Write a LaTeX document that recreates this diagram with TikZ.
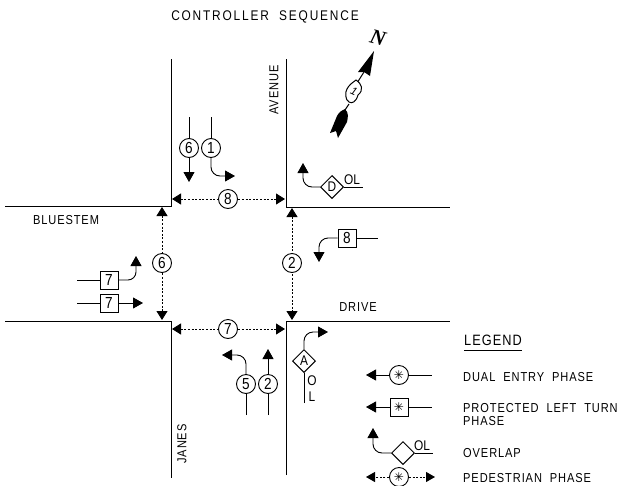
\documentclass[tikz,border=0pt]{standalone}
\usepackage{fontspec}
\setmainfont{Liberation Sans}
\newfontfamily\spaced[FakeStretch=0.85,LetterSpace=7,WordSpace=2]{Liberation Sans}
\newfontfamily\spacedt[FakeStretch=0.85,LetterSpace=13,WordSpace=2]{Liberation Sans}
\newfontfamily\narrow[FakeStretch=0.85]{Liberation Sans}
\newfontfamily\serifn{Liberation Serif}
\newfontfamily\djv{DejaVu Sans}
\usetikzlibrary{arrows.meta,shapes.geometric}
\newcommand{\phasestar}{\fontsize{12}{12}\selectfont\djv ✳}
\tikzset{
  road/.style={line width=1pt},
  flow/.style={line width=.9pt,-{Triangle[length=10pt,width=11pt]}},
  plain/.style={line width=.9pt},
  ped/.style={line width=.9pt,dash pattern=on 2pt off 1.6pt,{Triangle[length=9pt,width=11pt]}-{Triangle[length=9pt,width=11pt]}},
  pedhalf/.style={line width=.9pt,dash pattern=on 2pt off 1.6pt,-{Triangle[length=9pt,width=10pt]}},
  phase/.style={draw,circle,line width=.9pt,minimum size=19pt,inner sep=0pt,font=\fontsize{16}{16}\selectfont\narrow,fill=white},
  lbox/.style={draw,rectangle,line width=1pt,minimum size=18pt,inner sep=0pt,font=\fontsize{16}{16}\selectfont\narrow,fill=white},
  ovl/.style={draw,diamond,aspect=1,line width=1pt,minimum size=23pt,inner sep=0pt,font=\fontsize{14}{14}\selectfont\narrow,fill=white},
  lbl/.style={inner sep=0pt,font=\fontsize{13}{13}\selectfont\spaced},
  lgd/.style={lbl,anchor=west},
  ol/.style={inner sep=0pt,font=\fontsize{14}{14}\selectfont\narrow}
}
\begin{document}
\begin{tikzpicture}[x=1pt,y=-1pt]
\useasboundingbox[fill=white] (0,0) rectangle (637,485);
% labels
\node[lbl,font=\fontsize{14}{14}\selectfont\spacedt] (title) at (265,17) {CONTROLLER SEQUENCE};
\node[lbl] (blue) at (66,220) {BLUESTEM};
\node[lbl] (drive) at (358,307) {DRIVE};
\node[lbl,rotate=90] (ave) at (274,90) {AVENUE};
\node[lbl,rotate=90] (janes) at (182,444) {JANES};
% roads
\coordinate (tl1) at (171,59); \coordinate (tlc) at (171,206); \coordinate (tl2) at (5,206);
\coordinate (tr1) at (286,59); \coordinate (trc) at (286,207); \coordinate (tr2) at (450,207);
\coordinate (bl1) at (5,321); \coordinate (blc) at (171,321); \coordinate (bl2) at (171,478);
\coordinate (br1) at (286,475); \coordinate (brc) at (286,321); \coordinate (br2) at (450,321);
\draw[road] (tl1) -- (tlc) -- (tl2);
\draw[road] (tr1) -- (trc) -- (tr2);
\draw[road] (bl1) -- (blc) -- (bl2);
\draw[road] (br1) -- (brc) -- (br2);
% pedestrian
\coordinate (p8a) at (172,199); \coordinate (p8b) at (285,199);
\coordinate (p7a) at (172,329); \coordinate (p7b) at (285,329);
\coordinate (p6a) at (162,207); \coordinate (p6b) at (162,320);
\coordinate (p2a) at (292,208); \coordinate (p2b) at (292,320);
\draw[ped] (p8a) -- (p8b);
\draw[ped] (p7a) -- (p7b);
\draw[ped] (p6a) -- (p6b);
\draw[ped] (p2a) -- (p2b);
\node[phase] (c8) at (228,199) {8};
\node[phase] (c7) at (228,329) {7};
\node[phase] (c6p) at (162,263) {6};
\node[phase] (c2p) at (292,263) {2};
% approach from top
\coordinate (s6) at (189,117); \coordinate (e6) at (189,182);
\coordinate (s1) at (211,117); \coordinate (e1) at (235,176);
\node[phase] (c6) at (189,148) {6};
\node[phase] (c1) at (211,148) {1};
\draw[plain] (s6) -- (c6.north);
\draw[flow] (c6.south) -- (e6);
\draw[plain] (s1) -- (c1.north);
\draw[flow,rounded corners=9pt] (c1.south) |- (e1);
% D overlap
\node[ovl] (d) at (332,187) {D};
\node[ol] (dol) at (352,180) {OL};
\coordinate (dr) at (363,187); \coordinate (de) at (303,163);
\draw[plain] (d.east) -- (dr);
\draw[flow,rounded corners=9pt] (d.west) -| (de);
% box 8
\node[lbox] (b8) at (347,238) {8};
\coordinate (b8r) at (378,238); \coordinate (b8e) at (319,262);
\draw[plain] (b8.east) -- (b8r);
\draw[flow,rounded corners=9pt] (b8.west) -| (b8e);
% boxes 7
\node[lbox] (b7a) at (109,280) {7};
\node[lbox] (b7b) at (109,303) {7};
\coordinate (a7s) at (77,280); \coordinate (a7e) at (136,256);
\coordinate (b7s) at (77,303); \coordinate (b7e) at (143,303);
\draw[plain] (a7s) -- (b7a.west);
\draw[flow,rounded corners=8pt] (b7a.east) -| (a7e);
\draw[plain] (b7s) -- (b7b.west);
\draw[flow] (b7b.east) -- (b7e);
% bottom approach
\node[phase] (c5) at (246,384) {5};
\node[phase] (c2) at (268,384) {2};
\coordinate (s5) at (246,415); \coordinate (e5) at (222,355);
\coordinate (s2) at (268,415); \coordinate (e2) at (268,349);
\draw[plain] (s5) -- (c5.south);
\draw[flow,rounded corners=9pt] (c5.north) |- (e5);
\draw[plain] (s2) -- (c2.south);
\draw[flow] (c2.north) -- (e2);
% A overlap
\node[ovl] (a) at (304,361) {A};
\coordinate (as) at (304,403); \coordinate (ae) at (328,332);
\draw[plain] (as) -- (a.south);
\draw[flow,rounded corners=9pt] (a.north) |- (ae);
\node[ol] (ao) at (312,381) {O};
\node[ol] (al) at (312,397) {L};
% north arrow
\fill (374,51) -- (370,76) -- (364,72) -- (358,72) -- cycle;
\draw[line width=1pt] (364,72) -- (357,83);
\draw[line width=1pt] (349,104) -- (345,110);
\draw[line width=1pt,fill=white] (356,80) .. controls (362,84) and (364,90) .. (358,95) .. controls (356,102) and (352,104) .. (349,102) .. controls (345,100) and (345,92) .. (347,89) .. controls (349,85) and (352,83) .. (356,80) -- cycle;
\fill (345,109) .. controls (349,113) and (348,117) .. (347,122) -- (338,138) -- (336,131) -- (330,133) -- (337,116) .. controls (339,112) and (342,110) .. (345,109) -- cycle;
\node[inner sep=0pt,rotate=-25,font=\fontsize{11}{11}\selectfont\itshape] (shield) at (354,91) {1};
\node[inner sep=0pt,rotate=-15,font=\fontsize{21}{21}\selectfont\serifn\bfseries\itshape] (north) at (378,38) {N};
% legend
\node[lgd,font=\fontsize{15}{15}\selectfont\spaced] (lg) at (464,340) {LEGEND};
\draw[line width=1pt] (lg.west |- 0,350) -- (lg.east |- 0,350);
\node[phase] (l1) at (399,375) {\phasestar};
\coordinate (l1e) at (366,375); \coordinate (l1r) at (432,375);
\draw[flow] (l1.west) -- (l1e);
\draw[plain] (l1.east) -- (l1r);
\node[lgd] at (463,377) {DUAL ENTRY PHASE};
\node[lbox] (l2) at (399,407) {\phasestar};
\coordinate (l2e) at (366,407); \coordinate (l2r) at (432,407);
\draw[flow] (l2.west) -- (l2e);
\draw[plain] (l2.east) -- (l2r);
\node[lgd] at (463,408) {PROTECTED LEFT TURN};
\node[lgd] at (463,421) {PHASE};
\node[ovl] (l3) at (403,453) {};
\coordinate (l3r) at (433,453); \coordinate (l3e) at (373,428);
\draw[plain] (l3.east) -- (l3r);
\draw[flow,rounded corners=9pt] (l3.west) -| (l3e);
\node[ol] (l3ol) at (422,446) {OL};
\node[lgd] at (463,453) {OVERLAP};
\coordinate (l4a) at (366,477); \coordinate (l4b) at (435,477);
\node[phase] (l4) at (399,477) {\phasestar};
\draw[pedhalf] (l4.west) -- (l4a);
\draw[pedhalf] (l4.east) -- (l4b);
\node[lgd] at (463,478) {PEDESTRIAN PHASE};
\end{tikzpicture}
\end{document}
